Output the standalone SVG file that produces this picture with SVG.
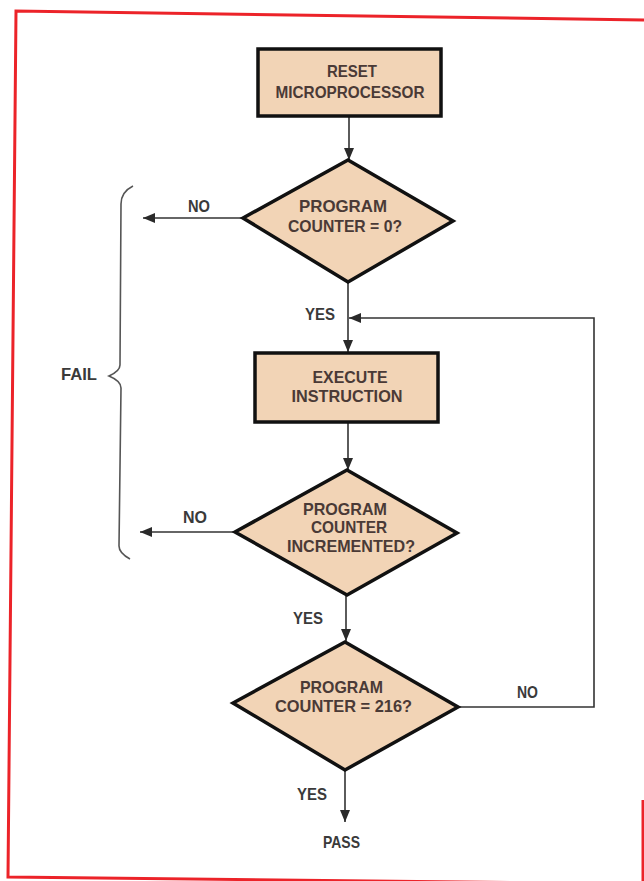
<svg xmlns="http://www.w3.org/2000/svg" width="644" height="881" viewBox="0 0 644 881">
<defs>
<marker id="ah" markerUnits="userSpaceOnUse" markerWidth="12" markerHeight="10" refX="12" refY="5" orient="auto">
<path d="M0,0 L12,5 L0,10 Z" fill="#2a2a2a"/>
</marker>
<style>
.shape{fill:#f2d4b6;stroke:#111;stroke-width:3.5;stroke-linejoin:miter}
.in{font-family:"Liberation Sans",Arial,sans-serif;font-weight:bold;font-size:16.5px;fill:#4a3a36;text-anchor:middle}
.lbl{font-family:"Liberation Sans",Arial,sans-serif;font-weight:bold;font-size:16.5px;fill:#3a3a3a;text-anchor:middle}
.con{fill:none;stroke:#333;stroke-width:1.6}
.brace{fill:none;stroke:#555;stroke-width:1.6}
.frame{fill:none;stroke:#ec2329;stroke-width:3}
</style>
</defs>
<rect width="644" height="881" fill="#ffffff"/>
<g id="frame">
<polyline class="frame" points="644,20 16,11 8,877 650,884"/>
<line class="frame" x1="643" y1="800" x2="643" y2="881"/>
</g>
<g id="connectors">
<line class="con" x1="349" y1="117" x2="349" y2="160" marker-end="url(#ah)"/>
<line class="con" x1="243" y1="218" x2="143" y2="218" marker-end="url(#ah)"/>
<line class="con" x1="348" y1="282" x2="348" y2="352" marker-end="url(#ah)"/>
<polyline class="con" points="458,707 594,707 594,318 349,318" marker-end="url(#ah)"/>
<line class="con" x1="348" y1="422" x2="348" y2="470" marker-end="url(#ah)"/>
<line class="con" x1="235" y1="532" x2="140" y2="532" marker-end="url(#ah)"/>
<line class="con" x1="346" y1="595" x2="346" y2="641" marker-end="url(#ah)"/>
<line class="con" x1="345" y1="770" x2="345" y2="822" marker-end="url(#ah)"/>
</g>
<g id="reset">
<rect class="shape" x="258" y="49" width="183" height="67"/>
<text class="in" x="352" y="77" textLength="50" lengthAdjust="spacingAndGlyphs">RESET</text>
<text class="in" x="350" y="98" textLength="149" lengthAdjust="spacingAndGlyphs">MICROPROCESSOR</text>
</g>
<g id="pc0">
<polygon class="shape" points="348,160 453,221 348,282 243,218"/>
<text class="in" x="343" y="212" textLength="88" lengthAdjust="spacingAndGlyphs">PROGRAM</text>
<text class="in" x="345" y="232" textLength="114" lengthAdjust="spacingAndGlyphs">COUNTER = 0?</text>
</g>
<g id="execute">
<rect class="shape" x="255" y="353" width="183" height="69"/>
<text class="in" x="350" y="383" textLength="75" lengthAdjust="spacingAndGlyphs">EXECUTE</text>
<text class="in" x="347" y="402" textLength="111" lengthAdjust="spacingAndGlyphs">INSTRUCTION</text>
</g>
<g id="pcinc">
<polygon class="shape" points="347,470 457,533 347,595 235,532"/>
<text class="in" x="345" y="515" textLength="84" lengthAdjust="spacingAndGlyphs">PROGRAM</text>
<text class="in" x="349" y="533" textLength="76" lengthAdjust="spacingAndGlyphs">COUNTER</text>
<text class="in" x="351" y="552" textLength="128" lengthAdjust="spacingAndGlyphs">INCREMENTED?</text>
</g>
<g id="pc216">
<polygon class="shape" points="345,642 458,707 345,770 233,703"/>
<text class="in" x="341.5" y="693" textLength="83" lengthAdjust="spacingAndGlyphs">PROGRAM</text>
<text class="in" x="343.5" y="712" textLength="137" lengthAdjust="spacingAndGlyphs">COUNTER = 216?</text>
</g>
<g id="fail">
<path class="brace" d="M133,186 Q121,192 121,204 L120,365 Q120,371 109,376 Q121,381 121,388 L119,546 Q119,553 130,559"/>
<text class="lbl" x="79" y="380" font-weight="normal" textLength="36" lengthAdjust="spacingAndGlyphs">FAIL</text>
</g>
<g id="labels">
<text class="lbl" x="199" y="212" textLength="22" lengthAdjust="spacingAndGlyphs">NO</text>
<text class="lbl" x="320" y="320" textLength="30" lengthAdjust="spacingAndGlyphs">YES</text>
<text class="lbl" x="195" y="523" textLength="24" lengthAdjust="spacingAndGlyphs">NO</text>
<text class="lbl" x="308" y="624" textLength="30" lengthAdjust="spacingAndGlyphs">YES</text>
<text class="lbl" x="527.5" y="698" textLength="21" lengthAdjust="spacingAndGlyphs">NO</text>
<text class="lbl" x="312" y="800" textLength="30" lengthAdjust="spacingAndGlyphs">YES</text>
<text class="lbl" x="341.5" y="848" textLength="37" lengthAdjust="spacingAndGlyphs">PASS</text>
</g>
</svg>
